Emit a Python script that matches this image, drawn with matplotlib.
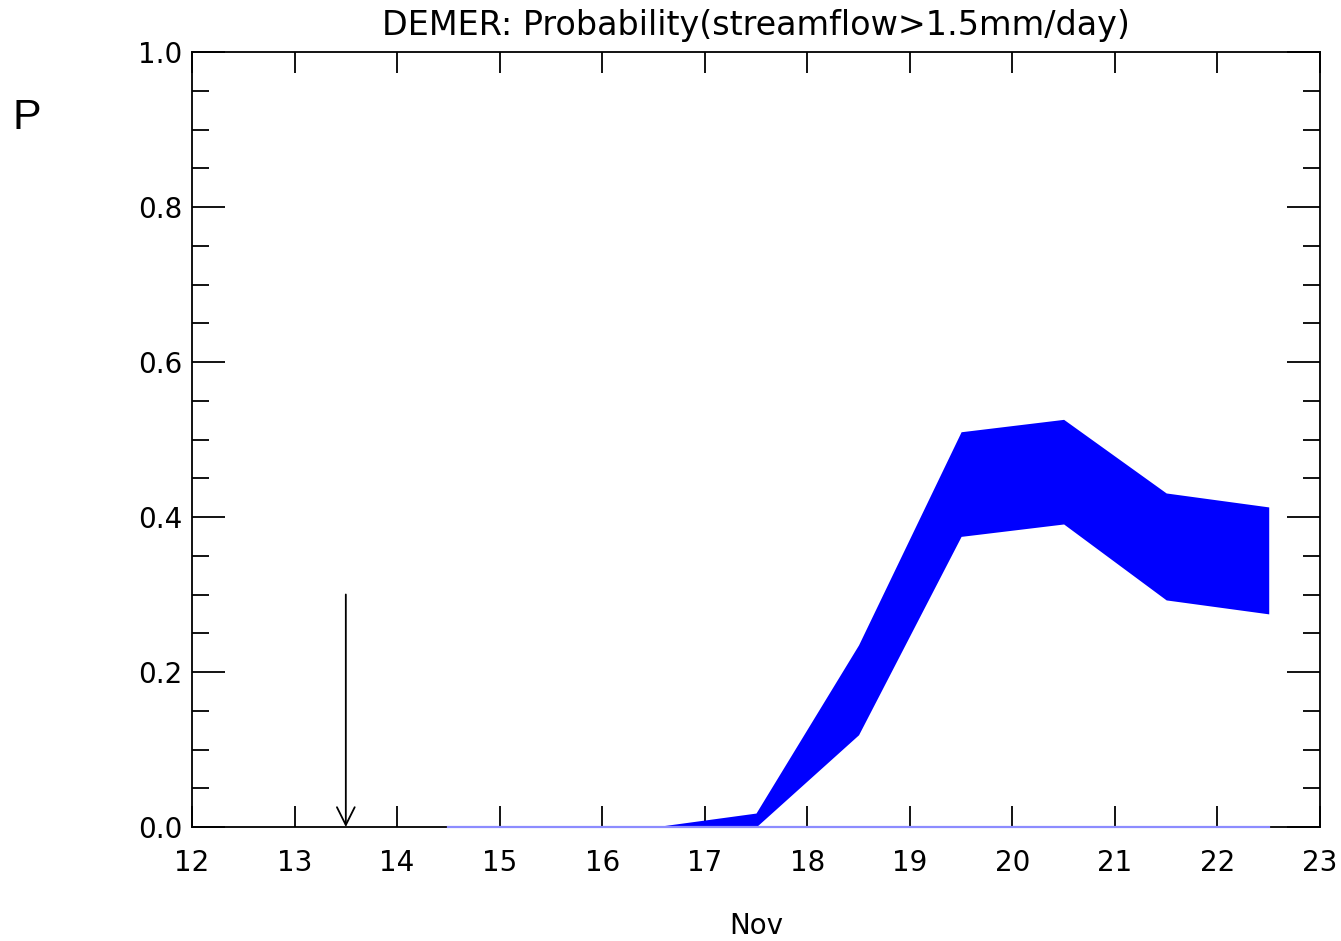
import numpy as np
import matplotlib
matplotlib.use("Agg")
import matplotlib.pyplot as plt

# forecast days (Nov) and probability band
days = [14.5, 15.5, 16.5, 17.5, 18.5, 19.5, 20.5, 21.5, 22.5]
p_low = [0.0, 0.0, 0.0, 0.0, 0.119, 0.375, 0.391, 0.293, 0.275]
p_high = [0.0, 0.0, 0.0, 0.018, 0.235, 0.510, 0.526, 0.431, 0.413]
p_base = [0.0, 0.0, 0.0, 0.0, 0.0, 0.0, 0.0, 0.0, 0.0]

# issue date marker
arrow_day = 13.5
arrow_top = 0.3

x_ticks = list(range(12, 24))
y_ticks = [0.0, 0.2, 0.4, 0.6, 0.8, 1.0]

fig = plt.figure(figsize=(13.41, 9.41), dpi=100)
ax = fig.add_axes([192/1341, 1-827/941, (1320-192)/1341, (827-52)/941])

ax.fill_between(days, p_low, p_high, color=(0, 0, 1), lw=0, zorder=2)
ax.plot(days, p_base, color=(0.55, 0.55, 1), lw=1.6, zorder=3, clip_on=False)

ax.annotate("", xy=(arrow_day, 0.0), xytext=(arrow_day, arrow_top),
            arrowprops=dict(arrowstyle="->", color="black", lw=1.3,
                            mutation_scale=32, shrinkA=0, shrinkB=0))

ax.set_xlim(12, 23)
ax.set_ylim(0, 1)
ax.set_xticks(x_ticks)
ax.set_yticks(y_ticks)
ax.set_yticks(np.arange(0, 1.001, 0.05), minor=True)
ax.set_yticklabels([f"{v:.1f}" for v in y_ticks])

ax.tick_params(axis="both", which="both", direction="in", top=True, right=True,
               labelsize=20, width=1.3, colors="black")
ax.tick_params(axis="x", which="major", length=15, pad=16)
ax.tick_params(axis="y", which="major", length=24, pad=7)
ax.tick_params(axis="y", which="minor", length=12)
for s in ax.spines.values():
    s.set_linewidth(1.3)

fig.text(756/1341, 1-26/941, "DEMER: Probability(streamflow>1.5mm/day)",
         fontsize=24, ha="center", va="center")
fig.text(756/1341, 1-926/941, "Nov", fontsize=20, ha="center", va="center")
fig.text(27/1341, 1-118/941, "P", fontsize=31, family="Liberation Sans",
         ha="center", va="center")

fig.savefig("out.png", dpi=100)
